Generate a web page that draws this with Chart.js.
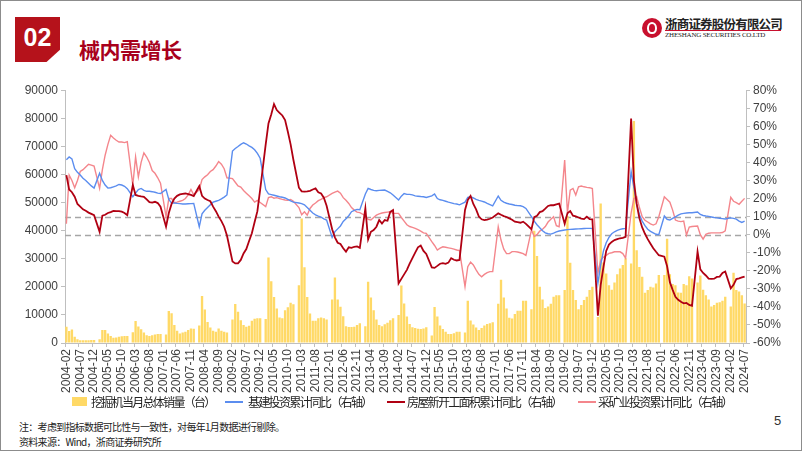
<!DOCTYPE html>
<html>
<head>
<meta charset="utf-8">
<script src="https://cdn.jsdelivr.net/npm/chart.js@4.4.1/dist/chart.umd.min.js"></script>
<style>
    html, body { margin: 0; padding: 0; }
    body {
        width: 802px; height: 451px; position: relative; overflow: hidden; background: #fff;
        font-family: "Noto Sans CJK SC", "Liberation Sans", sans-serif;
    }
    .frame { position: absolute; left: 0; top: 0; width: 800px; height: 449px; border: 1px solid #8c8c8c; }
    .num-box {
        position: absolute; left: 15px; top: 17px; width: 45px; height: 45px; background: #B5121B;
        clip-path: polygon(0 0, 100% 0, 100% 73%, 70% 100%, 0 100%);
        color: #fff; font: bold 25px "Liberation Sans", Arial, sans-serif; text-align: center; line-height: 40px;
    }
    .title { position: absolute; left: 79px; top: 34px; font-size: 21px; font-weight: bold; color: #A8001C; letter-spacing: -0.5px; }
    .logo { position: absolute; left: 642px; top: 18px; width: 20px; height: 20px; border-radius: 50%; background: #C8102E; }
    .logo::after {
        content: ""; position: absolute; left: 5px; top: 4px; width: 6px; height: 8px;
        border: 2px solid #fff; border-radius: 50% 50% 45% 45%;
    }
    .cn-name { position: absolute; left: 665px; top: 14px; font-size: 12.5px; font-weight: bold; color: #222; letter-spacing: -0.8px; }
    .cn-rule { position: absolute; left: 665px; top: 30px; width: 116px; height: 1px; background: #C8102E; }
    .en-name { position: absolute; left: 665px; top: 31px; font: 7px "Liberation Serif", serif; color: #222; letter-spacing: -0.2px; white-space: nowrap; }
    #chartBox { position: absolute; left: 0; top: 80px; width: 802px; height: 316px; }
    .legend { position: absolute; top: 393px; font-size: 12px; color: #222; letter-spacing: -1.7px; white-space: nowrap; }
    .swatch-bar { position: absolute; top: 397px; width: 15px; height: 9px; background: #FFD966; }
    .swatch-line { position: absolute; top: 401px; width: 18px; height: 2px; }
    .note { position: absolute; left: 19px; font-size: 10px; color: #222; letter-spacing: -0.7px; white-space: nowrap; }
    .page { position: absolute; left: 774px; top: 413px; font: 13px "Liberation Sans", Arial, sans-serif; color: #333; }
</style>
</head>
<body>
<div class="frame"></div>
<div class="num-box">02</div>
<div class="title">械内需增长</div>
<div class="logo"></div>
<div class="cn-name">浙商证券股份有限公司</div>
<div class="cn-rule"></div>
<div class="en-name">ZHESHANG SECURITIES CO.LTD</div>

<div id="chartBox"><canvas id="mainChart"></canvas></div>

<div class="swatch-bar" style="left:72px"></div>
<div class="legend" style="left:91px">挖掘机当月总体销量（台）</div>
<div class="swatch-line" style="left:225px;background:#5B8DEF"></div>
<div class="legend" style="left:248px">基建投资累计同比（右轴）</div>
<div class="swatch-line" style="left:387px;background:#B00012"></div>
<div class="legend" style="left:407px">房屋新开工面积累计同比（右轴）</div>
<div class="swatch-line" style="left:578px;background:#F4868C"></div>
<div class="legend" style="left:598px">采矿业投资累计同比（右轴）</div>

<div class="note" style="top:419px">注：考虑到指标数据可比性与一致性，对每年1月数据进行剔除。</div>
<div class="note" style="top:434px">资料来源：Wind，浙商证券研究所</div>
<div class="page">5</div>

<script>
// monthly categories, 2004-02 .. 2024-07 (January values are removed -> null)
const startYear = 2004;
const startMonth = 2;
const monthCount = 246;
const labelEvery = 5;

// 挖掘机当月总体销量（台）, one row per year
const excavatorSales = [
          5800, 4300, 4800, 2200, 1300, 1000, 1000, 1000, 1000, 1100, 1100,   // 2004
    null, 1300, 4600, 4600, 3400, 2500, 1900, 2000, 2200, 2400, 2500, 2500,   // 2005
    null, 3800, 7800, 5900, 4900, 3700, 2800, 2500, 2800, 3000, 3200, 3200,   // 2006
    null, 3000, 11400, 10600, 6400, 4400, 3400, 3700, 4000, 4600, 5200, 5100, // 2007
    null, 6200, 16700, 11900, 7500, 5500, 4400, 4000, 5200, 4400, 4000, 3700, // 2008
    null, 8400, 13900, 11100, 8100, 6400, 5800, 6100, 7900, 8600, 8800, 8800, // 2009
    null, 8500, 30400, 22000, 16400, 12300, 9100, 8800, 11700, 12700, 14300, 13800, // 2010
    null, 20600, 44300, 27000, 16400, 10500, 7900, 7900, 8800, 9100, 8800, 8400,    // 2011
    null, 15500, 23300, 15500, 12900, 9500, 6000, 5700, 5700, 5800, 6400, 7000,     // 2012
    null, 6000, 21800, 16200, 11700, 8400, 6400, 6000, 6700, 7200, 8100, 8800,      // 2013
    null, 10000, 20500, 14100, 9400, 6800, 5600, 5300, 5100, 5000, 5200, 5600,      // 2014
    null, 2700, 12800, 9400, 6200, 5000, 4000, 3200, 3200, 3500, 4000, 4000,        // 2015
    null, 3700, 15000, 8000, 6600, 5500, 4600, 5300, 6200, 6800, 7000, 7400,        // 2016
    null, 14000, 22500, 16200, 12300, 9000, 8700, 10300, 11500, 11500, 15000, 15000, // 2017
    null, 12000, 40000, 31000, 20000, 15500, 12500, 13000, 14000, 16500, 17000, 17000, // 2018
    null, 18900, 45200, 28600, 18900, 15300, 12000, 13500, 15300, 16500, 18900, 20000, // 2019
    null, 9300, 49700, 28700, 24700, 20600, 19000, 21500, 24500, 26500, 27800, 30200,  // 2020
    null, 28300, 79000, 33000, 27100, 23600, 17900, 18900, 20000, 19800, 21200, 24200, // 2021
    null, 24200, 37100, 24500, 21000, 20600, 18000, 17900, 21000, 20600, 23800, 23000, // 2022
    null, 21500, 24000, 19000, 17000, 15500, 13000, 13500, 14300, 14500, 15000, 16500, // 2023
    null, 13000, 25000, 18900, 18300, 17000, 14100                                     // 2024
];

// 基建投资累计同比（%）
const infraYoY = [
          41.5, 43, 42, 36.5, 34.5, 33, 31.2, 30, 28.5, 27, 25.8,
    null, 34, 30, 27.5, 25.8, 26, 26.5, 27, 27.8, 27.5, 26.8, 25.5,
    null, 21, 23, 25, 25.6, 24.5, 24, 24, 23.8, 23.5, 23, 22.8,
    null, 25, 19.5, 17.5, 17.5, 17.3, 17.2, 17, 17, 17.1, 17.2, 17.3,
    null, 4.4, 11.5, 13.5, 15, 16.5, 18, 18.5, 19, 19.8, 20.8, 22,
    null, 46.3, 47.7, 48.8, 50, 50.9, 50.2, 49.2, 48.3, 47, 45, 42.3,
    null, 25, 22.6, 22.2, 21.8, 21.4, 21, 20.7, 20.3, 19.5, 18.7, 18,
    null, 17.5, 17.2, 16.5, 15, 13.5, 12, 11, 10.3, 9.7, 8.8, 8.1,
    null, -1.5, 1.6, 3.2, 4.8, 7.3, 8.8, 10.5, 12.7, 13.5, 14, 13.8,
    null, 22.5, 25.6, 25, 24.5, 24.3, 24.5, 24.6, 24.7, 24, 23.2, 22,
    null, 19.2, 21.3, 22.8, 22.3, 22.3, 22, 21.5, 21.3, 21.1, 21, 20.6,
    null, 21.5, 22.5, 20, 19.3, 19, 18.5, 18, 17.6, 17.2, 17, 16.5,
    null, 18, 20.6, 21, 20.3, 19.5, 19, 18.6, 18.1, 17.3, 16.6, 15.9,
    null, 21.4, 19, 18, 17.4, 17, 16.7, 16.3, 16.1, 16, 15.5, 14.5,
    null, 10, 7.5, 5.5, 3.8, 2.2, 1, 0.5, 0.3, 0.8, 1.5, 2,
    null, 2.6, 2.8, 2.9, 3.0, 3.1, 3.2, 3.3, 3.4, 3.5, 3.5, 3.5,
    null, -27, -16.8, -9, -4.5, -1.5, 0.5, 1.6, 2.4, 2.9, 3.3, 3.5,
    null, 35, 26, 17, 11, 7.5, 5, 3, 1.8, 1, 0.2, 0,
    null, 10.3, 8.5, 8.1, 9, 9.9, 10.8, 11.5, 11.8, 12, 12.1, 12.1,
    null, 12.5, 11.2, 10.6, 10.3, 10.1, 9.8, 9.5, 9.3, 9.1, 8.9, 8.7,
    null, 9.3, 9.0, 8.6, 7.5, 6.8, 7.5
];

// 房屋新开工面积累计同比（%）
const housingStartsYoY = [
          33, 25, 23.5, 21, 17, 15.5, 14, 13.2, 12.2, 11.5, 10.8,
    null, 1.6, 10.5, 11, 12, 12.5, 13.2, 13, 13, 12.7, 12, 10.8,
    null, 27.5, 22, 21.5, 21.2, 21, 19.5, 18, 17.7, 18.2, 17.5, 15.5,
    null, 4.4, 12, 17, 20, 21.5, 22.3, 22.6, 22.8, 22.5, 22, 21.4,
    null, 26.9, 21.5, 20, 19.2, 18.5, 15.5, 13, 10, 7.5, 4.4, -0.5,
    null, -14.8, -15.9, -15.9, -14, -10.4, -8, -3.5, 0.8, 7, 13, 25,
    null, 50, 61.6, 66.5, 72.3, 69, 67.5, 66, 63.5, 57, 50, 41.5,
    null, 26, 24, 23.8, 24, 24.3, 25, 25.6, 23.5, 22.8, 20.5, 16,
    null, 3, -1.5, -4.5, -5.2, -7.5, -9.4, -7, -7.3, -6.7, -6.5, -7.3,
    null, 14.5, -2.6, 1.6, 2.6, 4.4, 8.1, 6.2, 8.1, 7.7, 12.7, 13.6,
    null, -27, -24.5, -22, -19.5, -16, -13, -10, -7, -6, -9, -10.7,
    null, -18.1, -18.4, -17.3, -16.1, -15.8, -16.2, -15.5, -13, -13.9, -14.3, -14,
    null, 13.7, 19.2, 21.4, 17, 14, 10, 8.5, 8.1, 8.3, 8.8, 9.5,
    null, 11.8, 11, 10.3, 9.8, 9, 8.3, 7.2, 6.9, 6.6, 7.2, 6,
    null, 3, 9.7, 10.5, 12.5, 13, 14.4, 15.9, 16.4, 16.3, 16.8, 17.2,
    null, 6, 11.9, 13.1, 10.5, 10.1, 9.5, 8.9, 8.6, 10, 8.6, 8.5,
    null, -44.9, -28, -18, -9, -5.5, -4, -3, -2.5, -2, -1.8, -1.2,
    null, 64.3, 30, 17, 9, 4, 0.5, -2.5, -5, -7.5, -9.5, -11.4,
    null, -12.2, -17.5, -26.3, -30.6, -34.4, -36.1, -37.2, -38, -37.8, -38.9, -39.4,
    null, -9.4, -19.2, -21.2, -22.6, -24.3, -24.5, -24.4, -23.4, -23.2, -21.2, -20.4,
    null, -29.7, -27.8, -24.6, -24.2, -23.7, -23.2
];

// 采矿业投资累计同比（%）
const miningYoY = [
          6, 33, 30, 26, 30, 35, 36, 37.5, 39, 38.5, 38,
    null, 25.6, 36, 44, 50, 55, 53.5, 52.3, 51.3, 51.3, 51, 51.5,
    null, 27.5, 43, 32, 40, 45.3, 43, 40, 35.5, 34, 31.5, 28.5,
    null, 10, 20, 20, 17.7, 18, 18.5, 19, 20, 22, 25, 22,
    null, 25, 30.5, 32, 33.2, 35, 36, 38, 40.5, 39, 36.5, 31.5,
    null, 31, 29, 27, 26.3, 24.5, 23, 21.5, 20, 18, 19, 17.8,
    null, 15.5, 20.5, 21, 20.2, 20.5, 20, 19.5, 19.2, 19, 19.5, 18.5,
    null, 15, 11, 12.7, 10.8, 14.5, 16.4, 17.5, 18.8, 19.5, 20.5, 21,
    null, 22.8, 23.5, 24.1, 23, 20.5, 19, 17.3, 15, 13.6, 12.5, 12.2,
    null, 10.5, 8.5, 8.1, 9.5, 10.8, 11.5, 12, 12.3, 12.5, 12.7, 11.8,
    null, 11.8, 9.5, 7.5, 5.5, 4.5, 4, 3.5, 2.8, 2, 1, 0.7,
    null, -3.9, -6, -8.5, -7.5, -6.7, -7, -7.3, -7.6, -8, -8.5, -8.8,
    null, -28.8, -17.7, -15.2, -16.8, -19.5, -22, -23.3, -22, -21, -20.5, -20.5,
    null, 4.4, -3, -8, -10.5, -10.5, -9.4, -9.4, -9.6, -10, -10.5, -11.5,
    null, 2.6, -1, 0, 2, 3, 4.5, 7, 8.5, 9.9, 5, 4.4,
    null, 41.3, 12, 24.7, 25.6, 22, 26.5, 26.9, 26.5, 26.2, 26, 25.5,
    null, -21.4, -14.1, -12.5, -11.5, -10.4, -10, -9.5, -9.4, -9.5, -10.5, -13,
    null, 12, 20, 21, 15, 10, 8, 7, 6, 5.3, 6, 9.9,
    null, 21, 19.5, 18, 13.6, 8.1, 7.5, 7.2, 7.5, -0.2, 4.2, 4.5,
    null, 4.8, 0, -2.5, 0.2, 0.8, 1, 1, 1, 1, 1.2, 2.1,
    null, 20.7, 18.5, 17.7, 16.8, 18.5, 20.1
];

// dashed reference levels on the right axis (%)
const refLevels = [10, 0];

const months = [];
for (let i = 0; i < monthCount; i++) {
    const m = startMonth - 1 + i;
    const y = startYear + Math.floor(m / 12);
    months.push(y + '-' + String(m % 12 + 1).padStart(2, '0'));
}

const axisColor = '#BFBFBF';
const tickFont = { family: '"Liberation Sans", Arial, sans-serif', size: 12 };

const refLinePlugin = {
    id: 'refLines',
    beforeDatasetsDraw(chart) {
        const { ctx, chartArea, scales } = chart;
        ctx.save();
        ctx.strokeStyle = '#A6A6A6';
        ctx.lineWidth = 1.3;
        ctx.setLineDash([6, 4]);
        refLevels.forEach(v => {
            const y = Math.round(scales.y1.getPixelForValue(v)) + 0.5;
            ctx.beginPath();
            ctx.moveTo(chartArea.left, y);
            ctx.lineTo(chartArea.right, y);
            ctx.stroke();
        });
        ctx.restore();
    }
};

new Chart(document.getElementById('mainChart'), {
    type: 'bar',
    data: {
        labels: months,
        datasets: [
            {
                type: 'line', label: '房屋新开工面积累计同比（右轴）', data: housingStartsYoY, yAxisID: 'y1',
                borderColor: '#B00012', borderWidth: 1.8, pointRadius: 0, spanGaps: true, tension: 0, order: 1
            },
            {
                type: 'line', label: '基建投资累计同比（右轴）', data: infraYoY, yAxisID: 'y1',
                borderColor: '#5B8DEF', borderWidth: 1.4, pointRadius: 0, spanGaps: true, tension: 0, order: 2
            },
            {
                type: 'line', label: '采矿业投资累计同比（右轴）', data: miningYoY, yAxisID: 'y1',
                borderColor: '#F4868C', borderWidth: 1.4, pointRadius: 0, spanGaps: true, tension: 0, order: 3
            },
            {
                type: 'bar', label: '挖掘机当月总体销量（台）', data: excavatorSales, yAxisID: 'y',
                backgroundColor: '#FFD966', barPercentage: 0.85, categoryPercentage: 1, order: 10
            }
        ]
    },
    options: {
        responsive: true,
        maintainAspectRatio: false,
        animation: false,
        layout: { padding: { top: 10, left: 0, right: 0, bottom: 0 } },
        plugins: { legend: { display: false }, tooltip: { enabled: false } },
        scales: {
            x: {
                afterFit: s => { s.height = 53; },
                border: { display: true, color: axisColor },
                grid: {
                    drawOnChartArea: false, tickLength: 4,
                    color: ctx => (ctx.index % labelEvery === 0 ? axisColor : 'rgba(0,0,0,0)')
                },
                ticks: {
                    autoSkip: false, maxRotation: 90, minRotation: 90, padding: 2,
                    color: '#404040', font: tickFont,
                    callback: (v, i) => (i % labelEvery === 0 ? months[i] : '')
                }
            },
            y: {
                position: 'left', min: 0, max: 90000,
                afterFit: s => { s.width = 65; },
                border: { display: true, color: axisColor },
                grid: { drawOnChartArea: false, tickLength: 4, color: axisColor },
                ticks: { stepSize: 10000, padding: 3, color: '#404040', font: tickFont, callback: v => String(v) }
            },
            y1: {
                position: 'right', min: -60, max: 80,
                afterFit: s => { s.width = 56; },
                border: { display: true, color: axisColor },
                grid: { drawOnChartArea: false, tickLength: 4, color: axisColor },
                ticks: { stepSize: 10, padding: 3, color: '#404040', font: tickFont, callback: v => v + '%' }
            }
        }
    },
    plugins: [refLinePlugin]
});
</script>
</body>
</html>
